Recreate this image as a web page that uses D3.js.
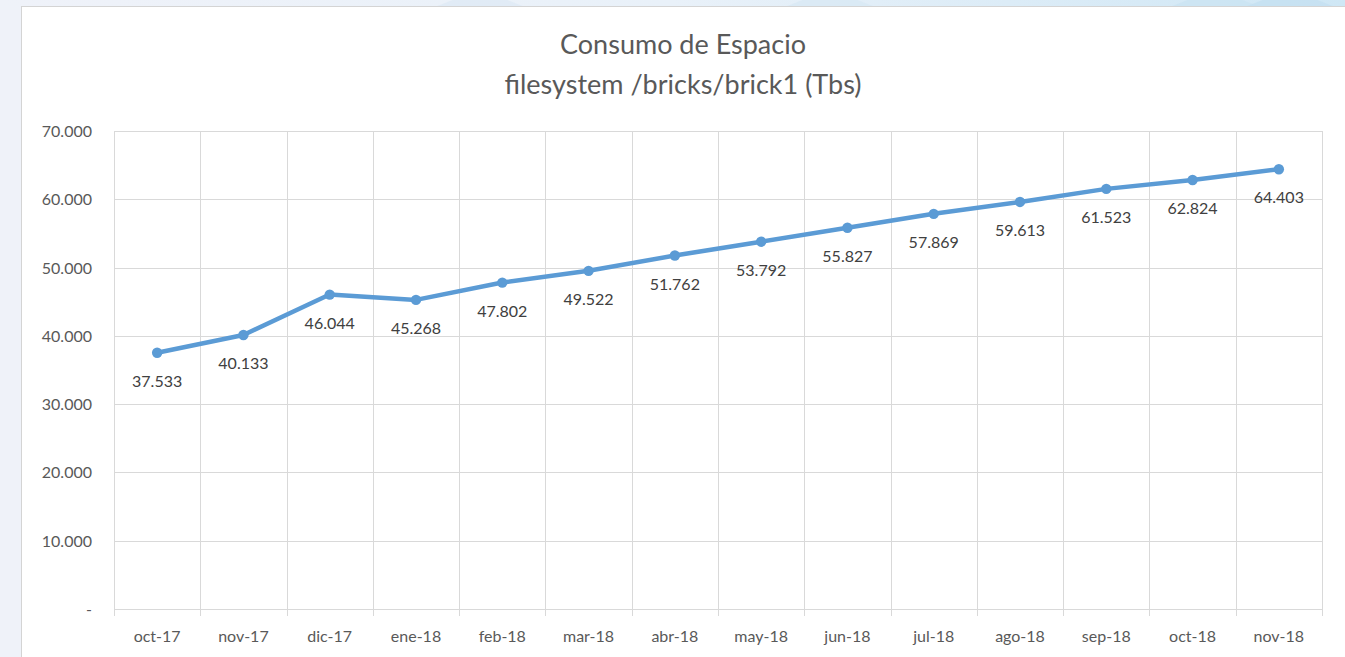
<!DOCTYPE html>
<html>
<head>
<meta charset="utf-8">
<script src="https://cdn.jsdelivr.net/npm/d3@7"></script>
<style>
  html, body { margin: 0; padding: 0; background: #eef2f8; }
  svg { display: block; }
</style>
</head>
<body>
<svg id="chart" width="1345" height="657"></svg>
<script>
// Monthly space usage of filesystem /bricks/brick1
const months = ["oct-17","nov-17","dic-17","ene-18","feb-18","mar-18","abr-18",
                "may-18","jun-18","jul-18","ago-18","sep-18","oct-18","nov-18"];
const usage = [37533, 40133, 46044, 45268, 47802, 49522, 51762,
               53792, 55827, 57869, 59613, 61523, 62824, 64403];
const yTicks = [0, 10000, 20000, 30000, 40000, 50000, 60000, 70000];
const titleLines = ["Consumo de Espacio", "filesystem /bricks/brick1 (Tbs)"];

const W = 1345, H = 657;
const svg = d3.select("#chart");
const FONT = "Lato, 'Open Sans', sans-serif";

// Page background strip with soft blue tint on the right
const defs = svg.append("defs");
const grad = defs.append("linearGradient").attr("id", "strip").attr("x1", 0).attr("x2", 1);
grad.append("stop").attr("offset", 0).attr("stop-color", "#eff2f9");
grad.append("stop").attr("offset", 0.5).attr("stop-color", "#e9f1f9");
grad.append("stop").attr("offset", 1).attr("stop-color", "#cfe7f5");
svg.append("rect").attr("x", 0).attr("y", 0).attr("width", W).attr("height", 8).attr("fill", "url(#strip)");
svg.append("rect").attr("x", 0).attr("y", 8).attr("width", 22).attr("height", H).attr("fill", "#eff2f9");

// faint decorative chevrons in the top strip
[[480, "#dfeaf5"], [830, "#d8e8f4"], [1215, "#cbe3f2"], [1290, "#c4e0f1"]].forEach(([cx, c]) => {
  svg.append("path")
    .attr("d", `M${cx - 45},7 L${cx - 15},-5 L${cx + 15},-5 L${cx + 45},7 Z`)
    .attr("fill", c).attr("opacity", 0.8);
});

// Chart card
svg.append("rect").attr("x", 21.5).attr("y", 6.5).attr("width", W).attr("height", H)
  .attr("fill", "#ffffff").attr("stroke", "#d4d4d4").attr("stroke-width", 1);

// Plot geometry
const plotLeft = 114, plotRight = 1322, plotTop = 131, plotBottom = 609;

const x = d3.scaleBand().domain(months).range([plotLeft, plotRight]).paddingInner(0).paddingOuter(0);
const y = d3.scaleLinear().domain([0, 70000]).range([plotBottom, plotTop]);

const locale = d3.formatLocale({ decimal: ",", thousands: ".", grouping: [3], currency: ["", ""] });
const fmt = locale.format(",d");
const tickFmt = v => v === 0 ? "-" : fmt(v);

// Horizontal gridlines
svg.append("g").selectAll("line").data(yTicks).join("line")
  .attr("x1", plotLeft).attr("x2", plotRight)
  .attr("y1", d => Math.round(y(d)) + 0.5).attr("y2", d => Math.round(y(d)) + 0.5)
  .attr("stroke", "#d9d9d9").attr("stroke-width", 1);

// Vertical gridlines at category boundaries, with small ticks below the axis
const bounds = months.map(m => x(m)).concat([plotRight]);
svg.append("g").selectAll("line").data(bounds).join("line")
  .attr("x1", d => Math.round(d) + 0.5).attr("x2", d => Math.round(d) + 0.5)
  .attr("y1", plotTop).attr("y2", plotBottom + 7)
  .attr("stroke", "#d9d9d9").attr("stroke-width", 1);

// Y axis labels
svg.append("g").selectAll("text").data(yTicks).join("text")
  .attr("x", plotLeft - 22).attr("y", d => y(d) + 6)
  .attr("text-anchor", "end")
  .attr("font-family", FONT).attr("font-size", 16).attr("fill", "#595959")
  .text(tickFmt);

// X axis labels
svg.append("g").selectAll("text").data(months).join("text")
  .attr("x", d => x(d) + x.bandwidth() / 2).attr("y", 642)
  .attr("text-anchor", "middle")
  .attr("font-family", FONT).attr("font-size", 16).attr("fill", "#595959")
  .text(d => d);

// Title
svg.append("g").selectAll("text").data(titleLines).join("text")
  .attr("x", 683).attr("y", (d, i) => 54 + i * 40)
  .attr("text-anchor", "middle")
  .attr("font-family", FONT).attr("font-size", 27).attr("fill", "#595959")
  .text(d => d);

// Series line and markers
const pts = months.map((m, i) => ({ m, v: usage[i] }));
const line = d3.line().x(d => x(d.m) + x.bandwidth() / 2).y(d => y(d.v));
svg.append("path").datum(pts)
  .attr("d", line).attr("fill", "none")
  .attr("stroke", "#5b9bd5").attr("stroke-width", 4.5)
  .attr("stroke-linejoin", "round").attr("stroke-linecap", "round");

svg.append("g").selectAll("circle").data(pts).join("circle")
  .attr("cx", d => x(d.m) + x.bandwidth() / 2).attr("cy", d => y(d.v))
  .attr("r", 5.2).attr("fill", "#5b9bd5");

// Data labels below each point
svg.append("g").selectAll("text").data(pts).join("text")
  .attr("x", d => x(d.m) + x.bandwidth() / 2).attr("y", d => y(d.v) + 34)
  .attr("text-anchor", "middle")
  .attr("font-family", FONT).attr("font-size", 16).attr("fill", "#404040")
  .text(d => fmt(d.v));
</script>
</body>
</html>
